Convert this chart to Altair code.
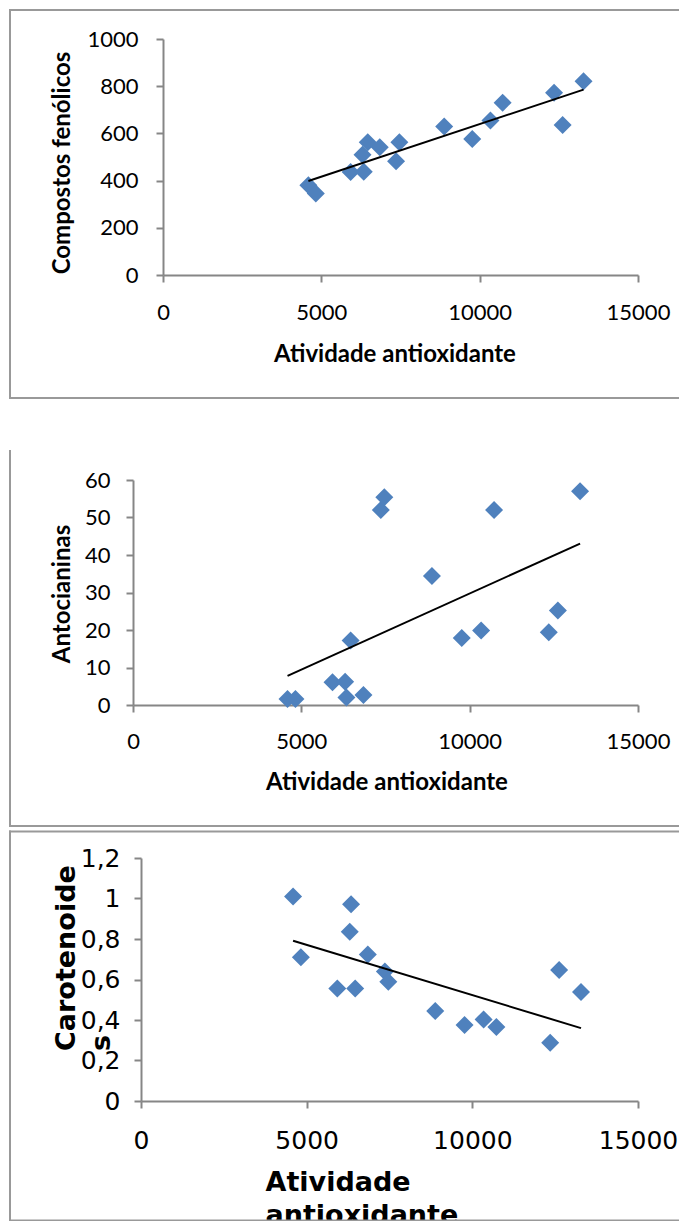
import altair as alt
import pandas as pd

# ---- data ----
atividade = [4590, 4825, 5925, 6300, 6340, 6465, 6845, 7360, 7465, 8880, 9765, 10340, 10725, 12350, 12620, 13280]
fenolicos = [380, 345, 436, 510, 438, 562, 541, 482, 562, 629, 576, 655, 730, 772, 636, 821]
antocianinas = [1.6, 1.6, 6.1, 6.2, 2.0, 17.2, 2.7, 52.0, 55.4, 34.4, 17.9, 19.9, 52.0, 19.4, 25.2, 57.0]
carotenoides = [1.01, 0.71, 0.556, 0.836, 0.971, 0.556, 0.724, 0.639, 0.589, 0.444, 0.375, 0.403, 0.365, 0.288, 0.647, 0.538]

x_ticks = [0, 5000, 10000, 15000]
y1_ticks = [0, 200, 400, 600, 800, 1000]
y2_ticks = [0, 10, 20, 30, 40, 50, 60]
y3_ticks = [0, 0.2, 0.4, 0.6, 0.8, 1.0, 1.2]

x_title = "Atividade antioxidante"
y1_title = "Compostos fenólicos"
y2_title = "Antocianinas"
y3_title = ["Carotenoide", "s"]
x3_title = ["Atividade", "antioxidante"]

df = pd.DataFrame({
    "atividade": atividade,
    "fenolicos": fenolicos,
    "antocianinas": antocianinas,
    "carotenoides": carotenoides,
})
one = pd.DataFrame({"k": [0]})

BLUE = "#4F81BD"
GRAY = "#868686"
BORDER = "#999999"

W = 505          # common plot width (page x 133 .. 638)
RIGHT = 545      # right end of frame lines, relative to plot origin
LEFT = -123      # left frame line, relative to plot origin


def axis(font, lsize, tsize, values, title, lpad, tx, ty, talign="center",
         lineh=None, label_expr=None, fmt=None, offset=None):
    kw = dict(
        values=values, title=title, grid=False,
        labelFont=font, labelFontSize=lsize, labelColor="black", labelPadding=lpad,
        labelFlush=False, labelOverlap=False,
        titleFont=font, titleFontSize=tsize, titleFontWeight="bold", titleColor="black",
        titleX=tx, titleY=ty, titleAlign=talign, titleBaseline="alphabetic",
        tickSize=7, tickWidth=2, tickColor=GRAY, domainColor=GRAY, domainWidth=2,
    )
    if lineh is not None:
        kw["titleLineHeight"] = lineh
    if label_expr is not None:
        kw["labelExpr"] = label_expr
    if fmt is not None:
        kw["format"] = fmt
    if offset is not None:
        kw["offset"] = offset
    return alt.Axis(**kw)


def hline(x1, x2, y):
    return alt.Chart(one).mark_rule(color=BORDER, strokeWidth=2, strokeCap="square").encode(
        x=alt.value(x1), x2=alt.value(x2), y=alt.value(y))


def vline(x, y1, y2, opacity=1):
    return alt.Chart(one).mark_rule(color=BORDER, strokeWidth=2, strokeCap="square", opacity=opacity).encode(
        x=alt.value(x), y=alt.value(y1), y2=alt.value(y2))


def panel(field, ydom, xstart, xax, yax, h, frame_layers):
    x = alt.X("atividade:Q",
              scale=alt.Scale(domain=[0, 15000], range=[xstart, W], nice=False, zero=False), axis=xax)
    y = alt.Y(f"{field}:Q", scale=alt.Scale(domain=ydom, nice=False, zero=False), axis=yax)
    pts = alt.Chart(df).mark_point(shape="diamond", filled=True, size=324, color=BLUE, opacity=1).encode(x=x, y=y)
    reg = alt.Chart(df).transform_regression("atividade", field).mark_line(
        color="black", strokeWidth=2).encode(x=x, y=y)
    return alt.layer(*frame_layers, pts, reg).properties(width=W, height=h)


# ---- panel 1 (axis at page x=163, top y=38) ----
S1, H1 = 30, 236
frame1 = [vline(LEFT, -29, 359), hline(LEFT, RIGHT, -29), hline(LEFT, RIGHT, 359)]
p1 = panel("fenolicos", [0, 1000], S1,
           axis("Lato", 22, 24, x_ticks, x_title, 20, 231.5 + S1, 86, fmt="d"),
           axis("Lato", 22, 24, y1_ticks, y1_title, 18, -93.5, 123.5, fmt="d", offset=-S1),
           H1, frame1)

# ---- panel 2 (axis at page x=133, top y=479) ----
H2 = 225
frame2 = [vline(LEFT, -78, -29, opacity=0), vline(LEFT, -29, 346), hline(LEFT, RIGHT, 346)]
p2 = panel("antocianinas", [0, 60], 0,
           axis("Lato", 22, 24, x_ticks, x_title, 19.5, 253.5, 84, fmt="d"),
           axis("Lato", 22, 24, y2_ticks, y2_title, 16, -63.5, 113.5, fmt="d"),
           H2, frame2)

# ---- panel 3 (axis at page x=141, top y=856.5) ----
S3, H3 = 8, 243
frame3 = [vline(LEFT, -26.5, 362.5), hline(LEFT, RIGHT, -26.5), hline(LEFT, RIGHT, 362.5)]
p3 = panel("carotenoides", [0, 1.2], S3,
           axis("DejaVu Sans", 25, 27, x_ticks, x3_title, 20, 124 + S3, 89, talign="left", lineh=33, fmt="d"),
           axis("DejaVu Sans", 25, 27, y3_ticks, y3_title, 14, -67, 192.5, talign="left", lineh=35,
                label_expr="replace(format(datum.value, '.1~f'), '.', ',')", offset=-S3),
           H3, frame3)

chart = alt.concat(p1, p2, p3, columns=1, spacing=1, bounds="full", align="none").properties(
    padding={"left": 0, "top": 0, "right": 0, "bottom": 0}
).configure_view(stroke="transparent")

chart.save("out.html", embed_options={"renderer": "svg", "actions": False})
